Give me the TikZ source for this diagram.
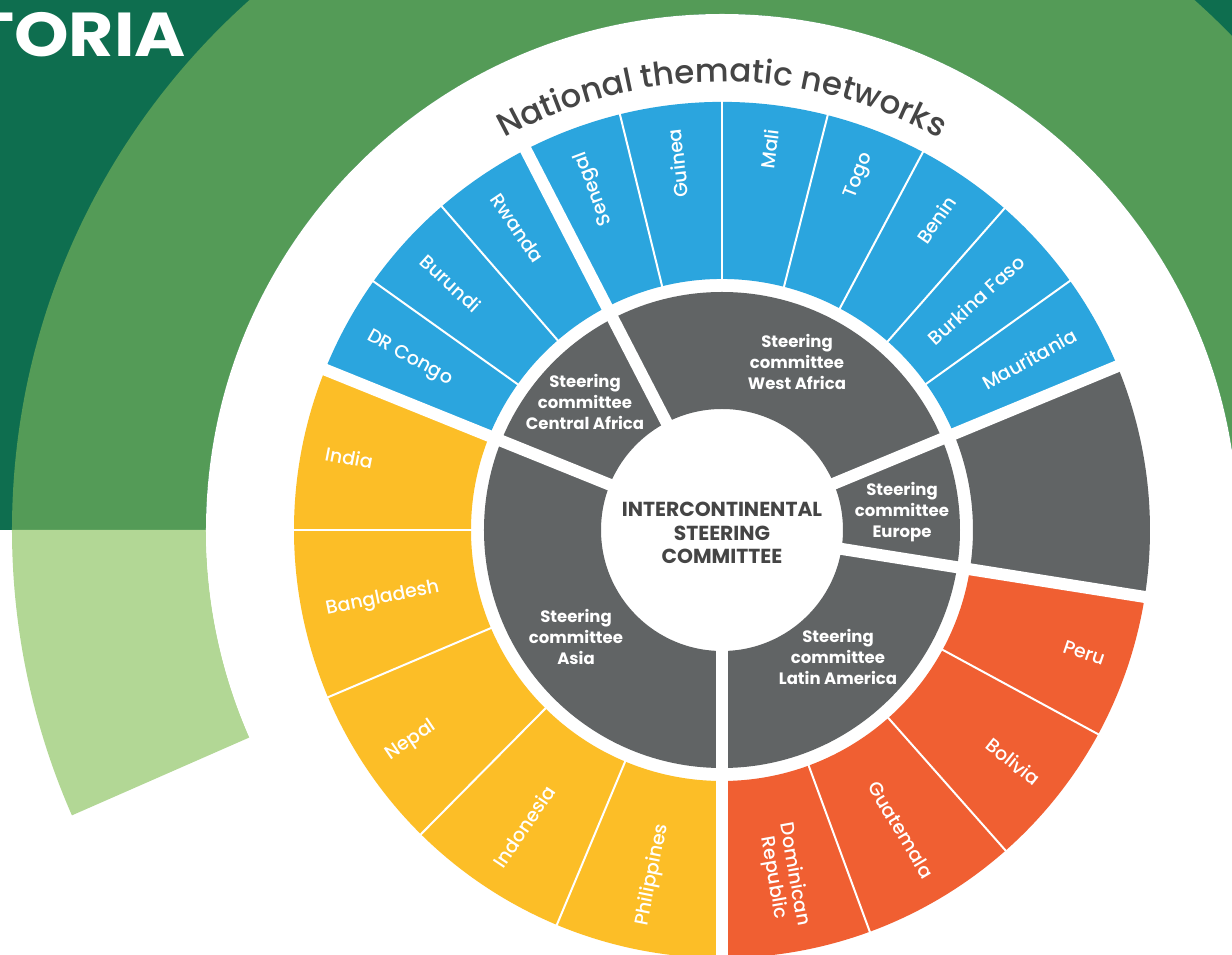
\documentclass[tikz,border=0pt]{standalone}
\usepackage{fontspec}
\usepackage{graphicx}
\setmainfont{Poppins}
\newfontfamily\medfont{Poppins Medium}
\usetikzlibrary{decorations.text}

\definecolor{darkteal}{HTML}{0E6E4F}
\definecolor{ringgreen}{HTML}{549B57}
\definecolor{palegreen}{HTML}{B2D795}
\definecolor{netblue}{HTML}{2BA5DE}
\definecolor{netyellow}{HTML}{FCBE27}
\definecolor{netorange}{HTML}{F05F32}
\definecolor{scgray}{HTML}{616465}
\definecolor{titlegray}{HTML}{454545}

\tikzset{
	gap/.style={white,line width=12pt},
	sep/.style={white,line width=2pt},
	outlab/.style={anchor=east,inner sep=0pt,text=white,align=center,font=\medfont\fontsize{19}{21}\selectfont},
	inlab/.style={anchor=west,inner sep=0pt,text=white,align=center,font=\medfont\fontsize{19}{21}\selectfont},
	steer/.style={text=white,align=center,inner sep=0pt,font=\bfseries\fontsize{16.5}{21}\selectfont},
}

\begin{document}
\begin{tikzpicture}[x=1pt,y=1pt]
	\useasboundingbox (-722,-425) rectangle (510,530);
	\clip (-722,-425) rectangle (510,530);

	% background band and big ring
	\fill[darkteal] (-722,0) rectangle (510,530);
	\fill[ringgreen] (-5:516) arc[start angle=-5,end angle=180,radius=516] -- (180:710) arc[start angle=180,end angle=-5,radius=710] -- cycle;
	\fill[palegreen] (180:516) arc[start angle=180,end angle=203.7,radius=516] -- (203.7:710) arc[start angle=203.7,end angle=180,radius=710] -- cycle;
	\fill[white] (0,0) circle[radius=516];
	\node[anchor=base east,inner sep=0pt,text=white,font=\bfseries\fontsize{62}{62}\selectfont] (banner) at (-536,473) {\scalebox{1.12}[1]{TORIA}};

	% rings
	\foreach \s/\e/\c in {22.5/158/netblue,158/270/netyellow,270/351/netorange,351/382.5/scgray}
		\fill[\c] (\s:251) arc[start angle=\s,end angle=\e,radius=251] -- (\e:428) arc[start angle=\e,end angle=\s,radius=428] -- cycle;
	\fill[scgray,even odd rule] (0,0) circle[radius=238] (0,0) circle[radius=121];
	\foreach \a in {22.5,117.3,158,270,351}
		\draw[gap] (0,0) -- (\a:440);
	\foreach \a in {35.6,48.7,62,75.7,90,103.8,130.9,144.5,180,203,225.3,247.3,290.2,311.5,331.5}
		\draw[sep] (\a:244) -- (\a:436);

	% countries
	\foreach \a/\lab/\nm in {110.55/Senegal/sen,96.9/Guinea/gui,82.85/Mali/mli,68.85/Togo/tgo,55.35/Benin/ben,42.15/Burkina Faso/bfa,29.05/Mauritania/mrt,280.1/{Dominican\\Republic}/dom,300.85/Guatemala/gtm,321.5/Bolivia/bol,341.25/Peru/per}
		\node[outlab,rotate=\a] (\nm) at (\a:404) {\lab};
	\foreach \a/\lab/\nm in {124.1/Rwanda/rwa,137.7/Burundi/bdi,151.25/DR Congo/cod,169/India/ind,191.5/Bangladesh/bgd,214.15/Nepal/npl,236.3/Indonesia/idn,258.65/Philippines/phl}
		\node[inlab,rotate=\a-180] (\nm) at (\a:404) {\lab};

	% steering committees
	\node[steer] (wafrica) at (75,168) {Steering\\committee\\West Africa};
	\node[steer] (cafrica) at (-137,128) {Steering\\committee\\Central Africa};
	\node[steer] (europe) at (180,18) {Steering\\committee\\Europe};
	\node[steer] (latam) at (116,-127) {Steering\\committee\\Latin America};
	\node[steer] (asia) at (-146,-107) {Steering\\committee\\Asia};
	\node[align=center,inner sep=0pt,text=titlegray,font=\bfseries\fontsize{20.3}{23.5}\selectfont] (isc) at (0,-3) {INTERCONTINENTAL\\STEERING\\COMMITTEE};

	\path[decorate,decoration={text along path,text align=center,
		text={|\color{titlegray}\medfont\fontsize{32.5}{32.5}\selectfont|National thematic networks}}]
		(150:448) arc[start angle=150,end angle=30,radius=448];
\end{tikzpicture}
\end{document}
